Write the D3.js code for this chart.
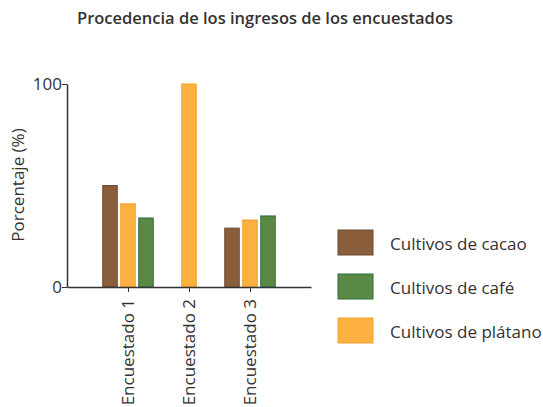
<!DOCTYPE html>
<html>
<head>
<meta charset="utf-8">
<script src="https://cdn.jsdelivr.net/npm/d3@7"></script>
<style>
  body { margin: 0; background: #fff; }
  svg { display: block; font-family: "Open Sans", "Noto Sans", sans-serif; }
</style>
</head>
<body>
<svg id="chart" width="543" height="407"></svg>
<script>
// Respondents and income sources (% of income)
const respondents = ["Encuestado 1", "Encuestado 2", "Encuestado 3"];
const seriesNames = ["Cultivos de cacao", "Cultivos de plátano", "Cultivos de café"];
const cacao   = [50, 0, 29];
const platano = [41, 100, 33];
const cafe    = [34, 0, 35];
const legendOrder = ["Cultivos de cacao", "Cultivos de café", "Cultivos de plátano"];
const yTicks = [0, 100];

const fills   = { "Cultivos de cacao": "#8a5d3b", "Cultivos de plátano": "#fbb040", "Cultivos de café": "#5a8845" };
const strokes = { "Cultivos de cacao": "#6b4a33", "Cultivos de plátano": "#f7a22a", "Cultivos de café": "#2f6e3a" };

const valuesBySeries = { "Cultivos de cacao": cacao, "Cultivos de plátano": platano, "Cultivos de café": cafe };

const svg = d3.select("#chart");
const plotLeft = 67, plotRight = 311, plotTop = 84, plotBottom = 287;
const fontSize = 17;

const x = d3.scalePoint().domain(respondents).range([plotLeft, plotRight]).padding(1);
const y = d3.scaleLinear().domain([0, 100]).range([plotBottom, plotTop]);

const barW = 14.5, gap = 3.5;

// Title
svg.append("text")
  .attr("x", 265).attr("y", 24)
  .attr("text-anchor", "middle")
  .attr("font-size", 16.5).attr("font-weight", 600)
  .attr("fill", "#333")
  .text("Procedencia de los ingresos de los encuestados");

// Bars: only non-zero values, centred as a group on each respondent
respondents.forEach((r, i) => {
  const present = seriesNames.filter(s => valuesBySeries[s][i] > 0);
  const total = present.length * barW + (present.length - 1) * gap;
  const x0 = x(r) - total / 2;
  present.forEach((s, j) => {
    const v = valuesBySeries[s][i];
    svg.append("rect")
      .attr("x", x0 + j * (barW + gap))
      .attr("y", y(v))
      .attr("width", barW)
      .attr("height", y(0) - y(v))
      .attr("fill", fills[s])
      .attr("stroke", strokes[s])
      .attr("stroke-width", 1);
  });
});

// Y axis
const yAxis = svg.append("g")
  .attr("transform", `translate(${plotLeft},0)`)
  .call(d3.axisLeft(y).tickValues(yTicks).tickSize(5).tickSizeOuter(0));
yAxis.select(".domain").attr("stroke", "#333").attr("stroke-width", 1.5);
yAxis.selectAll(".tick line").attr("stroke", "#333");
yAxis.selectAll(".tick text")
  .attr("font-size", fontSize).attr("fill", "#333")
  .attr("font-family", "'Open Sans', 'Noto Sans', sans-serif")
  .attr("x", -5).attr("dy", "0.3em");

// X axis
const xAxis = svg.append("g")
  .attr("transform", `translate(0,${plotBottom})`)
  .call(d3.axisBottom(x).tickSize(5).tickSizeOuter(0));
xAxis.select(".domain").attr("stroke", "#333").attr("stroke-width", 1.5);
xAxis.selectAll(".tick line").attr("stroke", "#333");
xAxis.selectAll(".tick text")
  .attr("font-size", fontSize).attr("fill", "#333")
  .attr("font-family", "'Open Sans', 'Noto Sans', sans-serif")
  .attr("transform", "rotate(-90)")
  .attr("text-anchor", "end")
  .attr("x", -12).attr("y", 0).attr("dy", "0.35em");

// Y axis title
svg.append("text")
  .attr("transform", "translate(24,185) rotate(-90)")
  .attr("text-anchor", "middle")
  .attr("font-size", fontSize).attr("fill", "#333")
  .text("Porcentaje (%)");

// Legend
const legend = svg.append("g");
legendOrder.forEach((s, i) => {
  const g = legend.append("g").attr("transform", `translate(338,${230 + i * 44})`);
  g.append("rect").attr("width", 35).attr("height", 25)
    .attr("fill", fills[s]).attr("stroke", strokes[s]).attr("stroke-width", 1);
  g.append("text").attr("x", 52).attr("y", 14).attr("dy", "0.35em")
    .attr("font-size", fontSize).attr("fill", "#333").text(s);
});
</script>
</body>
</html>
